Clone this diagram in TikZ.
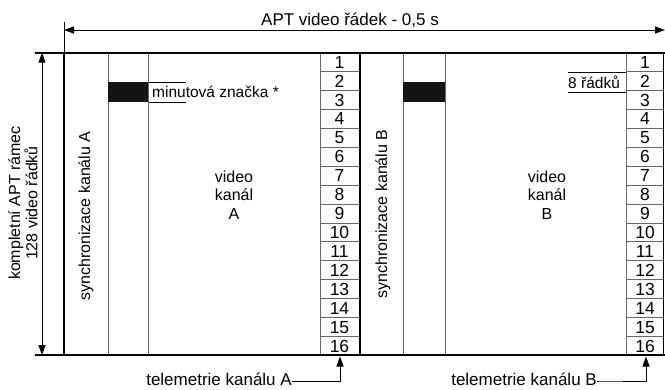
\documentclass[tikz,border=0pt]{standalone}
\usepackage{fontspec}
\setmainfont{Liberation Sans}
\usetikzlibrary{arrows.meta}
\begin{document}
\begin{tikzpicture}[x=1pt,y=-1pt,
  thickline/.style={line width=2.2pt, black},
  thinline/.style={line width=1pt, black},
  greyline/.style={line width=1pt, black!60},
  arr/.style={line width=1pt, -{Triangle[length=10pt,width=7pt]}},
  darr/.style={line width=1pt, {Triangle[length=10pt,width=7pt]}-{Triangle[length=10pt,width=7pt]}},
  lbl/.style={inner sep=0pt, font=\fontsize{16}{16}\selectfont},
  big/.style={inner sep=0pt, font=\fontsize{17}{17}\selectfont},
  small/.style={inner sep=0pt, font=\fontsize{15.5}{15.5}\selectfont},
  num/.style={inner sep=0pt, font=\fontsize{17.5}{17.5}\selectfont},
  marker/.style={fill=black!92, draw=none},
  ]
\useasboundingbox (0,0) rectangle (665,389);
\def\T{52.7}
\def\B{355}
\def\h{18.925}
% coordinates
\coordinate (TL) at (35,\T);
\coordinate (TR) at (665,\T);
\coordinate (BL) at (35,\B);
\coordinate (BR) at (665,\B);
\coordinate (FLt) at (64,\T);
\coordinate (FLb) at (64,\B);
\coordinate (FLx) at (64,22);
\coordinate (DVt) at (360,\T);
\coordinate (DVb) at (360,\B);
% grey column lines
\foreach \x in {108,148,320,403,445,626}{
  \draw[greyline] (\x,\T) -- (\x,\B);
}
\draw[thinline] (663,\T) -- (663,\B);
% cell dividers
\foreach \i in {1,...,15}{
  \draw[greyline] (320,\T+\i*\h) -- (359,\T+\i*\h);
  \draw[greyline] (626,\T+\i*\h) -- (663,\T+\i*\h);
}
% numbers
\foreach \i in {1,...,16}{
  \node[num] (nA\i) at (339.5,\T+\i*\h-0.5*\h) {\i};
  \node[num] (nB\i) at (645,\T+\i*\h-0.5*\h) {\i};
}
% markers
\path[marker] (108,82) rectangle (148,102);
\path[marker] (403,82) rectangle (445,102);
% frame
\draw[thickline] (TL) -- (TR);
\draw[thickline] (BL) -- (BR);
\draw[thickline] (FLt) -- (FLb);
\draw[thickline] (DVt) -- (DVb);
\draw[thinline] (FLx) -- (FLt);
% top dimension
\coordinate (HA) at (64,30);
\coordinate (HB) at (665,30);
\draw[darr] (HA) -- (HB);
\node[big, anchor=base] (title) at (350,25) {APT video řádek - 0,5 s};
% left dimension
\coordinate (VA) at (42,\T);
\coordinate (VB) at (42,\B);
\draw[darr] (VA) -- (VB);
\node[lbl, rotate=90, align=center] (frame) at (23,203) {kompletní APT rámec\\128 video řádků};
% sync labels
\node[lbl, rotate=90] (syncA) at (86,216) {synchronizace kanálu A};
\node[lbl, rotate=90] (syncB) at (383,214) {synchronizace kanálu B};
% video labels
\node[lbl, align=center, font=\fontsize{16}{18.5}\selectfont] (vidA) at (234,195) {video\\kanál\\A};
\node[lbl, align=center, font=\fontsize{16}{18.5}\selectfont] (vidB) at (547,195) {video\\kanál\\B};
% minute mark
\draw[thinline] (149,82) -- (186,82);
\draw[thinline] (149,102) -- (186,102);
\node[small, anchor=west] (minA) at (152,92) {minutová značka *};
% 8 rows
\draw[thinline] (568,72) -- (626,72);
\draw[thinline] (568,92) -- (626,92);
\node[small, anchor=west] (eight) at (568,82) {8 řádků};
% telemetry
\node[big, anchor=base east] (telA) at (292,385) {telemetrie kanálu A};
\node[big, anchor=base east] (telB) at (597,385) {telemetrie kanálu B};
\coordinate (telAbend) at (340,381);
\coordinate (telAtip) at (340,356.5);
\coordinate (telBbend) at (646,381);
\coordinate (telBtip) at (646,356.5);
\draw[arr] (telA.east |- telAbend) -- (telAbend) -- (telAtip);
\draw[arr] (telB.east |- telBbend) -- ++(3,0) -- (telBbend) -- (telBtip);
\end{tikzpicture}
\end{document}
